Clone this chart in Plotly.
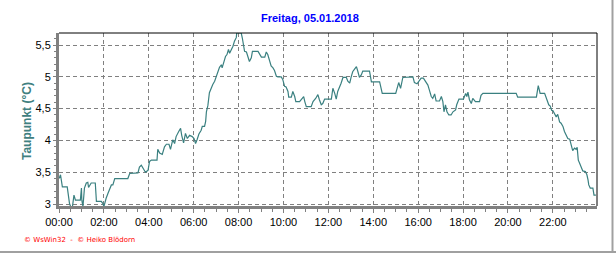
import plotly.graph_objects as go

title_text = "Freitag, 05.01.2018"
y_title = "Taupunkt (°C)"
footer = "© WsWin32  -  © Heiko Blödorn"
day = "2018-01-05"

times = ["00:00","00:04","00:09","00:22","00:28","00:31","00:36","00:40","00:44","00:57",
         "01:00","01:01","01:04","01:08","01:13","01:17","01:19","01:26","01:37","01:40",
         "01:53","01:57","02:00","02:03","02:06","02:11","02:15","02:20","02:24","02:29",
         "03:04","03:09","03:31","03:35","03:40","03:46","03:51","03:58","04:02","04:07",
         "04:22","04:24","04:29","04:36","04:42","04:47","04:54","04:58","05:04","05:09",
         "05:13","05:20","05:25","05:28","05:33","05:38","05:43","05:49","05:56","06:01",
         "06:05","06:09","06:14","06:20","06:23","06:29","06:32","06:34","06:38","06:42",
         "06:47","06:51","06:56","07:00","07:05","07:09","07:14","07:16","07:21","07:25",
         "07:29","07:33","07:36","07:40","07:45","07:49","07:54","07:55","08:07","08:10",
         "08:13","08:16","08:21","08:25","08:29","08:34","08:37","08:52","08:56","09:01",
         "09:10","09:14","09:18","09:23","09:27","09:32","09:36","09:41","09:45","09:54",
         "09:58","10:03","10:07","10:12","10:14","10:21","10:25","10:30","10:33","10:43",
         "10:50","10:54","10:57","11:01","11:14","11:19","11:26","11:32","11:36","11:41",
         "11:45","11:50","12:08","12:12","12:17","12:21","12:25","12:30","12:34","12:39",
         "12:48","12:52","12:57","13:01","13:05","13:10","13:15","13:19","13:23","13:28",
         "13:32","13:50","13:55","14:17","14:21","14:24","15:00","15:03","15:08","15:13",
         "15:19","15:46","15:50","15:57","16:04","16:08","16:14","16:20","16:26","16:30",
         "16:35","16:39","16:44","16:48","16:57","17:02","17:06","17:09","17:13","17:17",
         "17:22","17:28","17:33","17:40","17:43","17:49","18:01","18:07","18:10","18:13",
         "18:17","18:22","18:26","18:33","18:44","18:48","18:53","20:22","20:26","21:16",
         "21:18","21:21","21:24","21:26","21:38","21:42","21:47","21:49","21:53","21:57",
         "22:00","22:04","22:09","22:13","22:18","22:22","22:27","22:31","22:36","22:40",
         "22:45","22:49","22:53","22:58","23:02","23:05","23:08","23:11","23:16","23:20",
         "23:27","23:31","23:34","23:36","23:40","23:47","23:50","23:55"]

taupunkt = [3.40,3.46,3.27,3.27,3.01,2.96,2.96,3.14,3.06,3.06,
            3.25,3.06,2.96,3.25,3.33,3.34,3.26,3.33,3.33,3.04,
            3.04,3.01,2.96,3.04,3.09,3.17,3.22,3.30,3.30,3.40,
            3.40,3.48,3.49,3.58,3.61,3.55,3.50,3.53,3.67,3.69,
            3.69,3.86,3.80,3.78,3.90,3.94,3.94,3.86,4.01,3.95,
            4.06,4.14,4.19,4.08,3.96,4.11,4.03,4.08,4.06,4.03,
            3.95,4.01,4.10,4.16,4.22,4.22,4.30,4.45,4.55,4.75,
            4.84,4.88,4.93,5.00,5.08,5.15,5.19,5.14,5.24,5.32,
            5.35,5.43,5.37,5.41,5.48,5.56,5.62,5.69,5.69,5.61,
            5.48,5.40,5.39,5.30,5.24,5.30,5.40,5.40,5.36,5.31,
            5.31,5.39,5.35,5.22,5.17,5.14,5.10,5.01,5.00,5.00,
            4.96,4.85,4.84,4.77,4.68,4.68,4.77,4.69,4.61,4.61,
            4.67,4.69,4.61,4.53,4.53,4.61,4.66,4.72,4.64,4.56,
            4.58,4.65,4.65,4.82,4.74,4.65,4.77,4.83,4.90,4.99,
            4.99,4.93,4.90,5.00,5.08,5.12,5.16,5.08,4.99,5.03,
            5.09,5.09,4.92,4.92,4.84,4.74,4.74,4.82,4.91,4.82,
            4.99,5.00,4.91,4.89,4.94,4.98,4.98,4.92,4.87,4.79,
            4.69,4.66,4.73,4.62,4.62,4.69,4.61,4.45,4.56,4.45,
            4.40,4.40,4.45,4.48,4.56,4.65,4.65,4.74,4.69,4.76,
            4.64,4.58,4.66,4.61,4.61,4.71,4.74,4.74,4.68,4.68,
            4.79,4.86,4.79,4.74,4.74,4.66,4.58,4.56,4.54,4.47,
            4.47,4.43,4.37,4.41,4.29,4.27,4.22,4.14,4.08,4.03,
            4.02,3.93,3.84,3.88,3.86,3.89,3.69,3.65,3.56,3.52,
            3.51,3.46,3.38,3.30,3.25,3.25,3.14,3.14]

x_tick_labels = ["00:00","02:00","04:00","06:00","08:00","10:00",
                 "12:00","14:00","16:00","18:00","20:00","22:00"]
y_tick_values = [3.0, 3.5, 4.0, 4.5, 5.0, 5.5]
y_tick_labels = ["3", "3,5", "4", "4,5", "5", "5,5"]

x = [f"{day} {t}" for t in times]
x_ticks = [f"{day} {t}" for t in x_tick_labels]

L, R, T, B = 59, 19, 33, 47
W, H = 616, 253
pw = W - L - R
ph = H - T - B

fig = go.Figure()
fig.add_trace(go.Scatter(x=x, y=taupunkt, mode="lines",
                         line=dict(color="#3A8080", width=1.2),
                         hoverinfo="skip", showlegend=False))

grid = dict(showgrid=True, gridcolor="#808080", gridwidth=1, griddash="4px,3px")
fig.update_xaxes(type="date", range=[f"{day} 00:00", f"{day} 23:58"],
                 tickvals=x_ticks, ticktext=x_tick_labels,
                 showline=True, linecolor="#808080", linewidth=3,
                 ticks="outside", ticklen=4, tickcolor="#808080", tickwidth=1,
                 minor=dict(dtick=1800000, ticks="outside", ticklen=3,
                            tickcolor="#808080", showgrid=False),
                 tickfont=dict(family="Liberation Sans, Arial", size=11, color="black"),
                 zeroline=False, **grid)
fig.update_yaxes(range=[2.9686, 5.689],
                 tickvals=y_tick_values, ticktext=y_tick_labels,
                 showline=True, linecolor="#808080", linewidth=3,
                 ticks="outside", ticklen=3, tickcolor="#808080", tickwidth=1,
                 minor=dict(dtick=0.1, tick0=3.0, ticks="outside", ticklen=2,
                            tickcolor="#808080", showgrid=False),
                 tickfont=dict(family="Liberation Sans, Arial", size=11, color="black"),
                 zeroline=False, **grid)

def px_x(p):
    return (p - L) / pw

def px_y(p):
    return (H - B - p) / ph

shapes = [
    dict(type="line", xref="paper", yref="paper", x0=0, x1=1, y0=1, y1=1,
         line=dict(color="black", width=1)),
    dict(type="line", xref="paper", yref="paper", x0=1, x1=1, y0=0, y1=1,
         line=dict(color="black", width=1)),
    dict(type="line", xref="paper", yref="paper", x0=px_x(612.5), x1=px_x(612.5),
         y0=px_y(0), y1=px_y(252), line=dict(color="#A0A0A0", width=2)),
    dict(type="line", xref="paper", yref="paper", x0=px_x(0), x1=px_x(616),
         y0=px_y(252), y1=px_y(252), line=dict(color="#A0A0A0", width=2)),
]

annotations = [
    dict(text=f"<b>{title_text}</b>", xref="paper", yref="paper",
         x=px_x(310), y=px_y(18), xanchor="center", yanchor="middle", showarrow=False,
         font=dict(family="Liberation Sans, Arial", size=11, color="#0000FF")),
    dict(text=f"<b>{y_title}</b>", xref="paper", yref="paper",
         x=px_x(27), y=px_y(121), xanchor="center", yanchor="middle", showarrow=False,
         textangle=-90,
         font=dict(family="Liberation Sans, Arial", size=12, color="#408080")),
    dict(text=footer, xref="paper", yref="paper",
         x=px_x(22), y=px_y(240), xanchor="left", yanchor="middle", showarrow=False,
         font=dict(family="DejaVu Sans", size=7, color="#FF0000")),
]

fig.update_layout(width=W, height=H, margin=dict(l=L, r=R, t=T, b=B, pad=0),
                  paper_bgcolor="white", plot_bgcolor="white",
                  shapes=shapes, annotations=annotations, showlegend=False)

fig.write_html("out.html", config={"displayModeBar": False})
